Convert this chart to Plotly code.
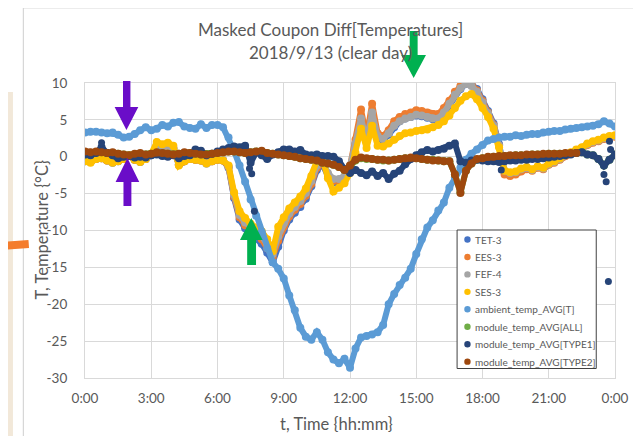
import plotly.graph_objects as go

# time of day in hours (15 min samples)
hours = [0, 0.25, 0.5, 0.75, 1, 1.25, 1.5, 1.75, 2, 2.25, 2.5, 2.75,
         3, 3.25, 3.5, 3.75, 4, 4.25, 4.5, 4.75, 5, 5.25, 5.5, 5.75,
         6, 6.25, 6.5, 6.75, 7, 7.25, 7.5, 7.75, 8, 8.25, 8.5, 8.75,
         9, 9.25, 9.5, 9.75, 10, 10.25, 10.5, 10.75, 11, 11.25, 11.5, 11.75,
         12, 12.25, 12.5, 12.75, 13, 13.25, 13.5, 13.75, 14, 14.25, 14.5, 14.75,
         15, 15.25, 15.5, 15.75, 16, 16.25, 16.5, 16.75, 17, 17.25, 17.5, 17.75,
         18, 18.25, 18.5, 18.75, 19, 19.25, 19.5, 19.75, 20, 20.25, 20.5, 20.75,
         21, 21.25, 21.5, 21.75, 22, 22.25, 22.5, 22.75, 23, 23.25, 23.5, 23.75, 24]

tet3 = [-0.6, -0.7, -0.3, -0.2, -0.5, -0.8, -0.6, -0.3, 0.1, -0.4, -0.7, -0.3,
        0.2, 1.4, 1.3, 1.4, 1.1, -1.1, -0.6, -0.3, -0.4, -0.5, -0.9, -0.6,
        -0.4, -0.5, -1.5, -5.6, -8.5, -9.7, -10.5, -11.1, -11.8, -13.0, -14.3, -12.2,
        -10.0, -8.5, -7.6, -6.8, -5.7, -4.0, -1.8, -1.0, -2.6, -3.5, -3.4, -3.0,
        -1.5, 1.8, 5.0, 2.2, 5.8, 2.6, 2.2, 3.0, 4.0, 4.8, 5.2, 5.4,
        5.6, 5.5, 5.3, 5.1, 5.1, 5.8, 7.0, 8.3, 9.2, 9.9, 9.8, 9.2,
        7.8, 6.2, 4.5, 1.7, -2.0, -2.3, -2.2, -1.8, -1.6, -1.8, -1.4, -1.6,
        -1.0, -0.7, -0.3, 0.2, 0.5, 0.9, 1.2, 1.7, 2.0, 2.2, 2.5, 2.7, 2.8]

ees3 = [-0.5, -0.7, -0.3, -0.2, -0.5, -0.7, -0.5, -0.3, 0.1, -0.4, -0.6, -0.3,
        0.3, 1.5, 1.4, 1.5, 1.2, -1.1, -0.6, -0.3, -0.4, -0.5, -0.8, -0.6,
        -0.4, -0.5, -1.4, -5.4, -8.2, -9.3, -10.0, -10.6, -11.2, -12.4, -13.6, -11.4,
        -9.5, -8.1, -7.2, -6.4, -5.3, -3.7, -1.5, -0.8, -2.4, -3.3, -3.2, -2.8,
        -1.3, 2.3, 6.4, 2.6, 7.2, 3.2, 2.8, 3.6, 4.8, 5.4, 5.8, 6.0,
        6.3, 6.2, 6.0, 5.8, 5.8, 6.6, 7.6, 8.8, 9.6, 10.1, 9.8, 9.0,
        7.6, 6.0, 4.3, 1.5, -2.4, -2.6, -2.4, -2.0, -1.7, -1.9, -1.5, -1.7,
        -1.1, -0.8, -0.4, 0.1, 0.4, 0.8, 1.1, 1.6, 1.9, 2.1, 2.4, 2.6, 2.7]

fef4 = [-0.5, -0.7, -0.2, -0.1, -0.4, -0.7, -0.5, -0.2, 0.2, -0.3, -0.6, -0.2,
        0.3, 1.6, 1.4, 1.5, 1.2, -1.0, -0.5, -0.2, -0.3, -0.4, -0.8, -0.5,
        -0.3, -0.4, -1.3, -5.2, -7.9, -8.9, -9.6, -10.1, -10.7, -11.8, -13.2, -10.8,
        -9.0, -7.7, -6.8, -6.0, -4.9, -3.3, -1.2, -0.6, -2.2, -3.0, -3.0, -2.6,
        -1.2, 1.8, 5.2, 2.2, 6.0, 2.8, 2.4, 3.2, 4.2, 4.8, 5.2, 5.4,
        5.7, 5.6, 5.4, 5.2, 5.2, 6.0, 7.2, 8.4, 9.3, 9.9, 9.6, 8.8,
        7.4, 5.9, 4.2, 1.5, -1.9, -2.2, -2.1, -1.7, -1.5, -1.8, -1.4, -1.6,
        -1.0, -0.7, -0.3, 0.2, 0.5, 0.9, 1.2, 1.7, 2.0, 2.2, 2.5, 2.7, 2.8]

ses3 = [-0.6, -0.8, -0.3, -0.2, -0.5, -0.8, -0.6, -0.3, 0.2, -0.4, -0.7, -0.3,
        0.4, 2.0, 1.7, 1.9, 1.5, -1.2, -0.6, -0.3, -0.4, -0.5, -0.9, -0.6,
        -0.4, -0.5, -1.2, -4.8, -7.4, -8.3, -9.1, -9.6, -10.1, -11.2, -12.8, -9.5,
        -8.2, -7.0, -6.2, -5.4, -4.3, -2.6, -0.6, -0.2, -2.9, -4.7, -4.2, -3.6,
        -2.2, 0.5, 3.8, 1.2, 4.2, 1.5, 1.4, 1.8, 2.3, 2.8, 3.2, 3.3,
        3.5, 3.6, 3.7, 4.0, 4.3, 4.8, 5.6, 6.6, 7.6, 8.2, 8.5, 7.8,
        6.6, 5.4, 3.8, 1.3, -1.9, -2.1, -2.0, -1.6, -1.4, -1.7, -1.3, -1.5,
        -0.9, -0.6, -0.2, 0.3, 0.6, 1.0, 1.3, 1.8, 2.1, 2.3, 2.6, 2.8, 2.9]

ambient = [3.3, 3.4, 3.4, 3.3, 3.2, 3.3, 3.0, 2.6, 2.7, 3.1, 3.6, 4.0,
           3.6, 3.8, 4.3, 4.1, 4.6, 4.7, 4.1, 3.9, 3.8, 4.4, 3.9, 4.3,
           4.3, 4.0, 2.6, 0.8, -1.2, -3.4, -5.8, -8.0, -10.2, -12.4, -14.3, -15.2,
           -16.5, -18.8, -20.8, -23.2, -24.4, -24.8, -23.8, -24.8, -26.5, -27.5, -28.0, -27.4,
           -28.6, -26.0, -24.5, -24.3, -24.1, -23.8, -22.8, -20.0, -18.6, -17.4, -16.4, -15.2,
           -13.2, -11.2, -9.6, -8.6, -7.3, -6.2, -4.2, -2.8, -1.5, -0.4, 0.4, 1.0,
           1.6, 2.2, 2.4, 2.6, 2.7, 2.7, 2.9, 2.8, 3.0, 3.1, 3.1, 3.3,
           3.4, 3.5, 3.5, 3.7, 3.8, 3.9, 4.0, 4.1, 4.2, 4.4, 4.8, 4.5, 4.1]

mod_all = [0.3, 0.5, 0.6, 0.6, 0.5, 0.5, 0.4, 0.3, 0.2, 0.3, 0.4, 0.3,
           0.4, 0.5, 0.5, 0.4, 0.3, 0.4, 0.5, 0.5, 0.4, 0.3, 0.3, 0.4,
           0.5, 0.6, 0.7, 0.7, 0.6, 0.5, 0.6, 0.7, 0.7, 0.5, 0.4, 0.3,
           0.2, 0.1, 0.0, -0.2, -0.3, -0.4, -0.5, -0.8, -0.9, -1.1, -1.4, -1.8,
           -1.3, -0.5, -0.2, -0.3, -0.3, -0.4, -0.5, -0.5, -0.4, -0.3, -0.2, -0.2,
           -0.2, -0.3, -0.4, -0.4, -0.5, -0.6, -0.6, -2.4, -4.8, -1.9, -0.9, -0.4,
           -0.2, -0.1, 0.0, 0.0, 0.1, 0.1, 0.2, 0.2, 0.2, 0.3, 0.3, 0.3,
           0.4, 0.4, 0.4, 0.4, 0.4, 0.5, 0.6, 0.3, 0.2, -0.3, -1.2, -0.4, 0.3]

mod_type1 = [0.3, 0.2, 0.5, 1.3, 0.5, 0.2, -0.2, 0.0, 0.1, -0.1, 0.0, -0.1,
             0.2, 0.3, 0.1, 0.0, 0.2, -0.2, 0.1, 0.2, 1.0, 0.8, 0.2, 0.4,
             0.7, 1.0, 1.2, 1.4, 1.3, 1.5, -0.8, 0.6, 0.2, -0.3, 0.3, 0.6,
             1.0, 1.0, 0.7, 0.9, 0.3, 0.2, 0.3, 0.1, 0.1, 0.0, -0.6, -1.7,
             -2.2, -1.8, -2.2, -2.5, -2.0, -2.6, -2.2, -3.0, -2.3, -1.9, -1.0, -0.3,
             0.2, 0.6, 0.9, 0.7, 0.9, 1.1, 1.5, 1.8, -0.6, -0.8, -0.5, -0.4,
             -0.5, -0.6, -0.6, -0.7, -0.6, -0.5, -0.5, -0.4, -0.4, -0.3, -0.3, -0.2,
             -0.1, 0.0, 0.1, 0.2, 0.3, 0.5, 0.6, 0.3, 0.2, -0.3, -1.2, -0.4, 0.3]

mod_type2 = [0.7, 0.6, 0.7, 0.6, 0.5, 0.6, 0.4, 0.3, 0.2, 0.4, 0.5, 0.3,
             0.4, 0.6, 0.5, 0.4, 0.3, 0.4, 0.6, 0.5, 0.4, 0.3, 0.3, 0.4,
             0.5, 0.6, 0.7, 0.7, 0.6, 0.5, 0.6, 0.7, 0.8, 0.5, 0.4, 0.3,
             0.2, 0.1, 0.0, -0.2, -0.3, -0.4, -0.5, -0.8, -0.9, -1.1, -1.4, -1.8,
             -1.2, -0.4, -0.1, -0.2, -0.3, -0.4, -0.4, -0.5, -0.4, -0.3, -0.2, -0.1,
             -0.2, -0.3, -0.4, -0.5, -0.5, -0.6, -0.6, -2.4, -4.9, -1.9, -0.9, -0.3,
             -0.2, 0.0, 0.0, 0.1, 0.1, 0.2, 0.2, 0.2, 0.3, 0.3, 0.3, 0.4,
             0.4, 0.4, 0.4, 0.5, 0.5, 0.5, None, None, None, None, None, None, None]

# stray module_temp_AVG[TYPE1] readings
type1_stray_t = [0.75, 7.45, 7.55, 7.67, 18.85, 23.5, 23.6, 23.7, 23.75, 23.8]
type1_stray_v = [1.9, -1.6, -2.3, -7.4, -1.8, -2.4, -3.4, -16.9, 2.1, 1.0]

tick_hours = [0, 3, 6, 9, 12, 15, 18, 21, 24]
tick_text = ["0:00", "3:00", "6:00", "9:00", "12:00", "15:00", "18:00", "21:00", "0:00"]
temp_ticks = [-30, -25, -20, -15, -10, -5, 0, 5, 10]
temp_text = ["-30", "-25", "-20", "-15", "-10", "-5", "0", "5", "10"]

series = [("TET-3", tet3, "#4472C4"), ("EES-3", ees3, "#ED7D31"), ("FEF-4", fef4, "#A5A5A5"),
          ("SES-3", ses3, "#FFC000"), ("ambient_temp_AVG[T]", ambient, "#5B9BD5"),
          ("module_temp_AVG[ALL]", mod_all, "#70AD47"), ("module_temp_AVG[TYPE1]", mod_type1, "#264478"),
          ("module_temp_AVG[TYPE2]", mod_type2, "#9E480E")]

# the page puts the figure 8px in from the top-left corner;
# positions below are given in window pixels, plot area x 85..622, y 83..378
def px(x, y):
    return (x - 85) / 537, (378 - y) / 295

def poly(points):
    pts = [px(x, y) for x, y in points]
    return "M " + " L ".join(f"{a:.4f},{b:.4f}" for a, b in pts) + " Z"

def box(x0, y0, x1, y1, **kw):
    a, b = px(x0, y0)
    c, d = px(x1, y1)
    return dict(type="rect", xref="paper", yref="paper", x0=a, y0=b, x1=c, y1=d, **kw)

def seg(x0, y0, x1, y1, **kw):
    a, b = px(x0, y0)
    c, d = px(x1, y1)
    return dict(type="line", xref="paper", yref="paper", x0=a, y0=b, x1=c, y1=d, **kw)

fig = go.Figure()
for name, vals, color in series:
    fig.add_trace(go.Scatter(x=hours, y=vals, mode="lines+markers", name=name, showlegend=False,
                             line=dict(color=color, width=6), marker=dict(size=8, color=color),
                             connectgaps=False, hoverinfo="skip"))
    if name == "module_temp_AVG[TYPE1]":
        fig.add_trace(go.Scatter(x=type1_stray_t, y=type1_stray_v, mode="markers", showlegend=False,
                                 marker=dict(size=7, color=color), hoverinfo="skip"))

purple = "#6A0DC8"
green = "#00B050"
txt = "#595959"
shapes = [
    box(0, 92, 12, 436, fillcolor="#F2E8D9", line=dict(width=0)),
    box(0, 142, 2, 436, fillcolor="#BDB4A8", line=dict(width=0)),
    seg(22.5, 8, 641, 8, line=dict(color="#D9D9D9", width=1)),
    seg(22.5, 8, 22.5, 436, line=dict(color="#CFCFCF", width=1)),
    seg(0, 246, 28, 244, line=dict(color="#F47C2C", width=8)),
]
for pts, col in [
    ([(123.5, 81), (131, 81), (131, 107), (139, 107), (127, 130), (115, 107), (123.5, 107)], purple),
    ([(128, 158), (140, 182), (132, 182), (132, 206), (124, 206), (124, 182), (116, 182)], purple),
    ([(414, 31), (422, 31), (422, 55), (430.5, 55), (418, 78), (405.5, 55), (414, 55)], green),
    ([(253.5, 218), (265, 240), (258.3, 240), (258.3, 265), (249.3, 265), (249.3, 240), (242, 240)], green),
]:
    shapes.append(dict(type="path", xref="paper", yref="paper", path=poly(pts),
                       fillcolor=col, line=dict(width=0)))

annotations = [
    dict(text="Masked Coupon Diff[Temperatures]", x=px(334, 30)[0], y=px(334, 30)[1], font=dict(size=17, color=txt)),
    dict(text="2018/9/13 (clear day)", x=px(334, 52)[0], y=px(334, 52)[1], font=dict(size=17, color=txt)),
    dict(text="t, Time {hh:mm}", x=px(340, 424)[0], y=px(340, 424)[1], font=dict(size=16.5, color=txt)),
    dict(text="T, Temperature {°C}", x=px(41, 230)[0], y=px(41, 230)[1], textangle=-90,
         font=dict(size=16.5, color=txt)),
]

# legend box drawn by hand to match the tight row spacing
shapes.append(box(462, 230, 603, 368.5, fillcolor="white", line=dict(color="#404040", width=1)))
for i, (name, vals, color) in enumerate(series):
    yrow = 239.5 + i * 17.45
    cx, cy = px(472.5, yrow)
    shapes.append(dict(type="circle", xref="paper", yref="paper", xsizemode="pixel", ysizemode="pixel",
                       xanchor=cx, yanchor=cy, x0=-3.2, x1=3.2, y0=-3.2, y1=3.2,
                       fillcolor=color, line=dict(width=0)))
    tx, ty = px(478, yrow)
    annotations.append(dict(text=name, x=tx, y=ty, xanchor="left", font=dict(size=10, color=txt)))

for a in annotations:
    a.setdefault("xanchor", "center")
    a.update(xref="paper", yref="paper", showarrow=False, yanchor="middle")

fig.update_layout(
    width=633, height=428, margin=dict(l=77, r=19, t=75, b=58),
    paper_bgcolor="white", plot_bgcolor="white",
    font=dict(family="Lato, Carlito, Calibri, sans-serif", color=txt),
    shapes=shapes, annotations=annotations, showlegend=False,
)
fig.update_xaxes(range=[0, 24], tickvals=tick_hours, ticktext=tick_text, showgrid=True, gridcolor="#D9D9D9",
                 zeroline=False, showline=True, linecolor="#D9D9D9", mirror=True,
                 tickfont=dict(size=13.5, color=txt), ticklabelstandoff=8)
fig.update_yaxes(range=[-30, 10], tickvals=temp_ticks, ticktext=temp_text, showgrid=True, gridcolor="#D9D9D9",
                 zeroline=False, showline=True, linecolor="#D9D9D9", mirror=True,
                 tickfont=dict(size=13.5, color=txt), ticklabelstandoff=14)

fig.write_html("out.html")
